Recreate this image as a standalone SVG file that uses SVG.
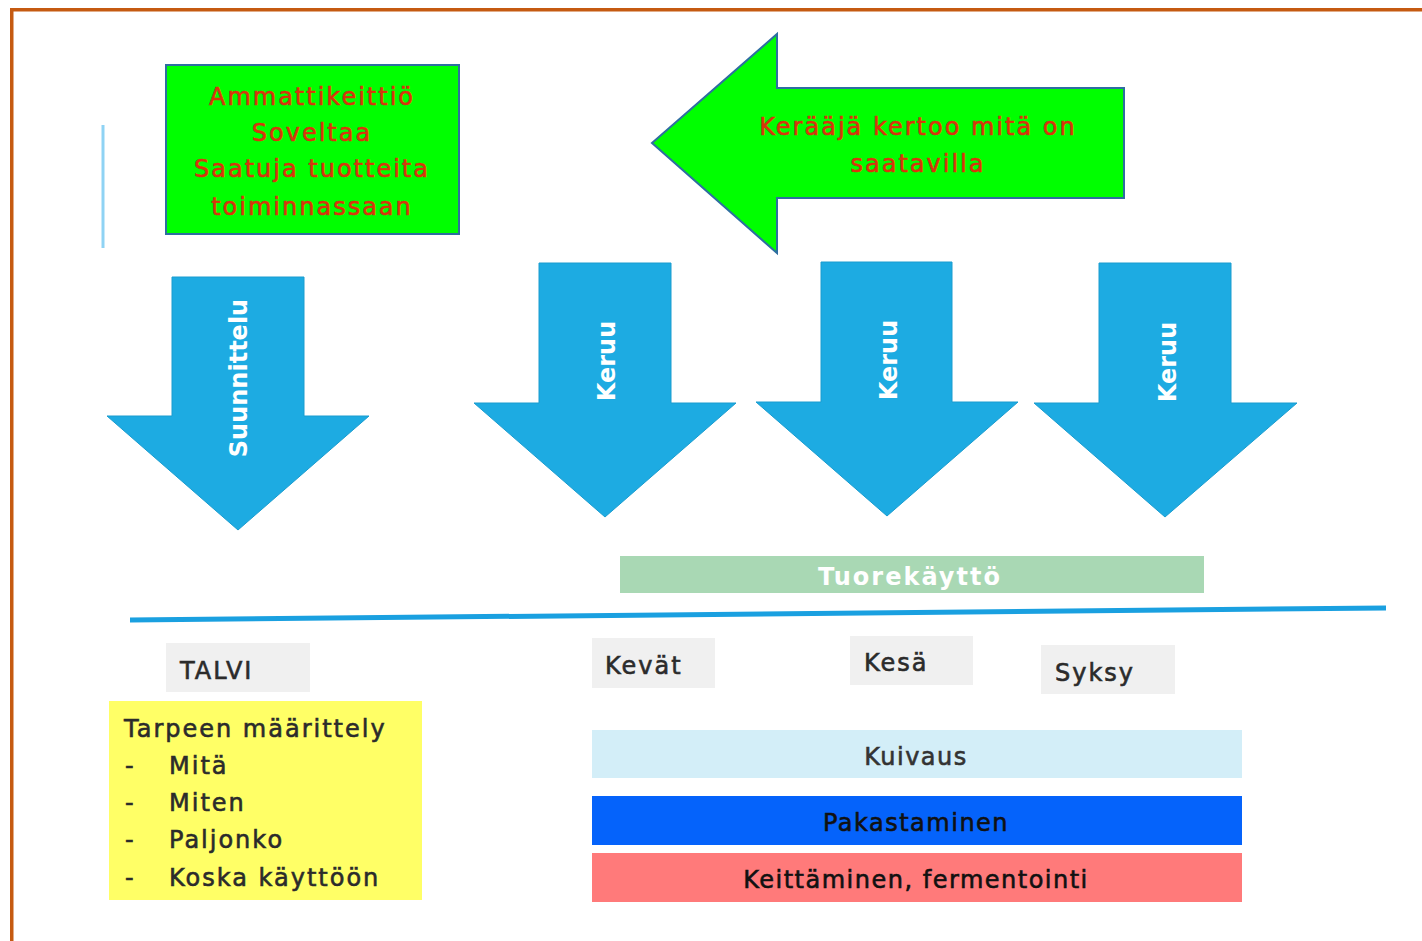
<svg xmlns="http://www.w3.org/2000/svg" width="1422" height="941" viewBox="0 0 1422 941">
<style>
.t{font-family:"DejaVu Sans","Liberation Sans",sans-serif;font-size:24px;letter-spacing:2px;stroke-width:0.6px}
.red{fill:#d8340c;stroke:#d8340c;text-anchor:middle}
.wh{font-family:"DejaVu Sans","Liberation Sans",sans-serif;font-weight:bold;font-size:24px;fill:#ffffff;text-anchor:middle}
.dk{fill:#2b2b2b;stroke:#2b2b2b}
.blk{fill:#111111;stroke:#111111;text-anchor:middle}
.darr{fill:#1dabe2;stroke:#1a9ccf;stroke-width:1}
.season{fill:#f0f0f0}
</style>
<rect x="0" y="0" width="1422" height="941" fill="#ffffff"/>
<g id="frame">
<rect x="10" y="8" width="1412" height="3.5" fill="#c55a11"/>
<rect x="10" y="8" width="3.5" height="933" fill="#c55a11"/>
</g>
<g id="connectors">
<line x1="103" y1="125" x2="103" y2="248" stroke="#8fd3f4" stroke-width="3"/>
<line x1="130" y1="620" x2="1386" y2="608" stroke="#1aa0e0" stroke-width="5"/>
</g>
<g id="ammattikeittio">
<rect x="166" y="65" width="293" height="169" fill="#00ff00" stroke="#2e6ea0" stroke-width="2"/>
<text class="t red" x="312" y="105">Ammattikeittiö</text>
<text class="t red" x="312" y="141">Soveltaa</text>
<text class="t red" x="312" y="177">Saatuja tuotteita</text>
<text class="t red" x="312" y="215">toiminnassaan</text>
</g>
<g id="keraaja">
<polygon points="652,143 777,34 777,88 1124,88 1124,198 777,198 777,253" fill="#00ff00" stroke="#2e6ea0" stroke-width="2"/>
<text class="t red" x="918" y="135">Kerääjä kertoo mitä on</text>
<text class="t red" x="918" y="172">saatavilla</text>
</g>
<g id="suunnittelu">
<polygon points="172,277 304,277 304,416 369,416 238,530 107,416 172,416" class="darr"/>
<text class="wh" transform="translate(247,378) rotate(-90)">Suunnittelu</text>
</g>
<g id="keruu1">
<polygon points="539,263 671,263 671,403 736,403 605,517 474,403 539,403" class="darr"/>
<text class="wh" transform="translate(615,361) rotate(-90)">Keruu</text>
</g>
<g id="keruu2">
<polygon points="821,262 952,262 952,402 1018,402 887,516 756,402 821,402" class="darr"/>
<text class="wh" transform="translate(897,360) rotate(-90)">Keruu</text>
</g>
<g id="keruu3">
<polygon points="1099,263 1231,263 1231,403 1297,403 1165,517 1034,403 1099,403" class="darr"/>
<text class="wh" transform="translate(1176,362) rotate(-90)">Keruu</text>
</g>
<g id="tuorekaytto">
<rect x="620" y="556" width="584" height="37" fill="#a9d8b4"/>
<text class="t" x="910" y="585" fill="#ffffff" text-anchor="middle" font-weight="bold">Tuorekäyttö</text>
</g>
<g id="talvi">
<rect class="season" x="166" y="643" width="144" height="49"/>
<text class="t dk" x="180" y="679">TALVI</text>
</g>
<g id="kevat">
<rect class="season" x="592" y="638" width="123" height="50"/>
<text class="t dk" x="605" y="674">Kevät</text>
</g>
<g id="kesa">
<rect class="season" x="850" y="636" width="123" height="49"/>
<text class="t dk" x="864" y="671">Kesä</text>
</g>
<g id="syksy">
<rect class="season" x="1041" y="645" width="134" height="49"/>
<text class="t dk" x="1055" y="681" font-size="26">Syksy</text>
</g>
<g id="tarpeen">
<rect x="109" y="701" width="313" height="199" fill="#ffff66"/>
<text class="t dk" x="124" y="737">Tarpeen määrittely</text>
<text class="t dk" x="125" y="774">-</text>
<text class="t dk" x="169" y="774">Mitä</text>
<text class="t dk" x="125" y="811">-</text>
<text class="t dk" x="169" y="811">Miten</text>
<text class="t dk" x="125" y="848">-</text>
<text class="t dk" x="169" y="848">Paljonko</text>
<text class="t dk" x="125" y="886">-</text>
<text class="t dk" x="169" y="886">Koska käyttöön</text>
</g>
<g id="kuivaus">
<rect x="592" y="730" width="650" height="48" fill="#d3eef8"/>
<text class="t" x="916" y="765" fill="#333333" stroke="#333333" text-anchor="middle" style="letter-spacing:1.5px">Kuivaus</text>
</g>
<g id="pakastaminen">
<rect x="592" y="796" width="650" height="49" fill="#0563fb"/>
<text class="t blk" x="916" y="831" style="letter-spacing:1.5px">Pakastaminen</text>
</g>
<g id="keittaminen">
<rect x="592" y="853" width="650" height="49" fill="#ff7a7a"/>
<text class="t blk" x="916" y="888" style="letter-spacing:1.5px">Keittäminen, fermentointi</text>
</g>
</svg>
